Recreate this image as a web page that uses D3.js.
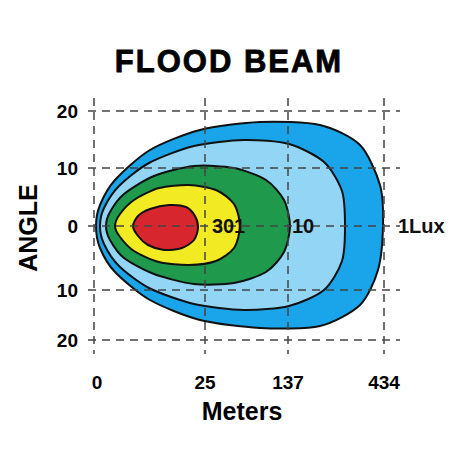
<!DOCTYPE html>
<html><head><meta charset="utf-8">
<script src="https://cdn.jsdelivr.net/npm/d3@7"></script>
<style>body{margin:0;background:#fff}</style></head>
<body><svg id="c" width="472" height="472"></svg>
<script>
const title = "FLOOD  BEAM";
const xTickPos = [0, 111, 194, 290];
const xTickLabels = ["0", "25", "137", "434"];
const yTickPos = [115, 58, 0, -64, -114];
const yTickLabels = ["20", "10", "0", "10", "20"];
const contourNames = ["1Lux", "10", "30", "1", "max"];
const contourColors = ["#1aa5ea", "#93d5f5", "#1f9a4c", "#f2ea22", "#d8262e"];
const contours = [
 [[2,0],[6,21],[21,46],[56,76],[106,96],[166,104],[226,101],[266,81],[286,41],[289,0],[284,-44],[266,-79],[226,-100],[166,-102],[106,-94],[56,-74],[21,-46],[6,-22]],
 [[6,0],[10,18],[25,40],[55,63],[100,80],[150,86],[195,82],[230,64],[248,35],[251,0],[248,-35],[230,-64],[195,-80],[150,-84],[100,-78],[55,-62],[25,-40],[10,-18]],
 [[12,0],[16,14],[30,32],[60,50],[100,60],[140,58],[172,46],[190,26],[196,0],[190,-26],[172,-46],[140,-57],[100,-58],[60,-48],[30,-32],[16,-14]],
 [[21,0],[26,12],[40,26],[65,38],[95,41],[122,36],[140,22],[146,0],[140,-22],[122,-35],[95,-39],[65,-36],[40,-25],[26,-11]],
 [[39,0],[44,10],[56,17],[75,21],[92,19],[101,10],[104,-2],[100,-14],[88,-22],[70,-24],[54,-19],[44,-10]]
];
const labelX = [304, 198, 118, 140];
const labelText = ["1Lux", "10", "30", "1"];

const svg = d3.select("#c");
const x = d3.scaleLinear().domain([0, 290]).range([94, 384]);
const y = d3.scaleLinear().domain([-115, 115]).range([341, 111]);
const F = "Arial, 'Liberation Sans', sans-serif";

svg.append("text").attr("x", 229).attr("y", 72).attr("text-anchor", "middle")
  .attr("font-family", F).attr("font-weight", "bold").attr("font-size", 31)
  .attr("letter-spacing", 2).attr("stroke", "#000").attr("stroke-width", 0.8).text(title);

const line = d3.line().x(d => x(d[0])).y(d => y(d[1])).curve(d3.curveCardinalClosed.tension(0.2));
contours.forEach((c, i) => {
  svg.append("path").attr("d", line(c)).attr("fill", contourColors[i])
    .attr("stroke", "#111").attr("stroke-width", 2);
});

const g = svg.append("g").attr("stroke", "#444").attr("stroke-width", 1.5).attr("stroke-dasharray", "8,6");
yTickPos.forEach(v => g.append("line").attr("x1", x(-6)).attr("x2", x(306)).attr("y1", y(v)).attr("y2", y(v)));
xTickPos.forEach(v => g.append("line").attr("x1", x(v)).attr("x2", x(v)).attr("y1", y(128)).attr("y2", y(-128)));

labelText.forEach((t, i) => {
  svg.append("text").attr("x", x(labelX[i])).attr("y", y(0) + 7)
    .attr("font-family", F).attr("font-weight", "bold").attr("font-size", 20)
    .attr("fill", "#111").text(t);
});

yTickPos.forEach((v, i) => svg.append("text").attr("x", 78).attr("y", y(v) + 7).attr("text-anchor", "end")
  .attr("font-family", F).attr("font-weight", "bold").attr("font-size", 19).text(yTickLabels[i]));
xTickPos.forEach((v, i) => svg.append("text").attr("x", x(v) + (i === 0 ? 3 : 0)).attr("y", 389).attr("text-anchor", "middle")
  .attr("font-family", F).attr("font-weight", "bold").attr("font-size", 19).text(xTickLabels[i]));
svg.append("text").attr("x", 242).attr("y", 420).attr("text-anchor", "middle")
  .attr("font-family", F).attr("font-weight", "bold").attr("font-size", 25).text("Meters");
svg.append("text").attr("transform", "translate(37,228) rotate(-90)").attr("text-anchor", "middle")
  .attr("font-family", F).attr("font-weight", "bold").attr("font-size", 25).text("ANGLE");
</script></body></html>
